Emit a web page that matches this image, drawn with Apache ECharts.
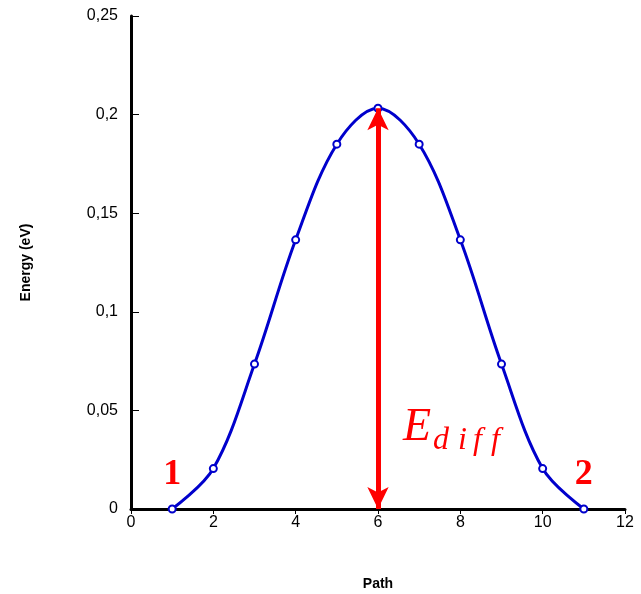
<!DOCTYPE html>
<html>
<head>
<meta charset="utf-8">
<script src="https://cdn.jsdelivr.net/npm/echarts@6/dist/echarts.min.js"></script>
<style>
  html, body { margin: 0; padding: 0; background: #fff; }
  #chart { width: 641px; height: 594px; }
</style>
</head>
<body>
<div id="chart"></div>
<script>
// Reaction path positions and energies (eV)
const pathSteps = [1, 2, 3, 4, 5, 6, 7, 8, 9, 10, 11];
const energies = [0, 0.0205, 0.0735, 0.1365, 0.185, 0.2032, 0.185, 0.1365, 0.0735, 0.0205, 0];
// Barrier (E_diff) between start and peak
const barrierX = 6;
const barrierTop = 0.2032;

const chart = echarts.init(document.getElementById('chart'));
const comma = v => String(v).replace('.', ',');
const sans = 'Liberation Sans, Arial, sans-serif';

chart.setOption({
  animation: false,
  grid: { left: 131, right: 16, top: 16, bottom: 85, containLabel: false, outerBoundsMode: 'none' },
  xAxis: {
    type: 'value', min: 0, max: 12, interval: 2,
    name: 'Path', nameLocation: 'middle', nameGap: 68,
    nameTextStyle: { fontFamily: sans, fontWeight: 'bold', fontSize: 14, color: '#000' },
    axisLine: { lineStyle: { color: '#000', width: 3 } },
    axisTick: { inside: false, length: 5, lineStyle: { color: '#000', width: 1 } },
    axisLabel: { fontFamily: sans, fontSize: 16, color: '#000', margin: 6 },
    splitLine: { show: false }
  },
  yAxis: {
    type: 'value', min: 0, max: 0.25, interval: 0.05,
    name: 'Energy (eV)', nameLocation: 'middle', nameGap: 98, nameRotate: 90,
    nameTextStyle: { fontFamily: sans, fontWeight: 'bold', fontSize: 14, color: '#000' },
    axisLine: { show: true, lineStyle: { color: '#000', width: 3 } },
    axisTick: { show: true, inside: true, length: 8, lineStyle: { color: '#000', width: 1 } },
    axisLabel: { fontFamily: sans, fontSize: 16, color: '#000', margin: 13, formatter: comma },
    splitLine: { show: false }
  },
  series: [
    {
      type: 'line',
      data: pathSteps.map((x, i) => [x, energies[i]]),
      smooth: 0.35,
      lineStyle: { color: '#0000cc', width: 3 },
      symbol: 'emptyCircle', symbolSize: 7,
      itemStyle: { color: '#0000cc', borderWidth: 1 },
      z: 3
    },
    {
      type: 'line',
      data: [],
      markLine: {
        silent: true,
        symbol: ['arrow', 'arrow'],
        symbolSize: [16, 22],
        label: { show: false },
        lineStyle: { color: '#ff0000', width: 5, type: 'solid' },
        data: [[{ coord: [barrierX, 0] }, { coord: [barrierX, barrierTop] }]]
      },
      z: 2
    }
  ]
});

// State labels and barrier annotation anchored in data coordinates
const at = (x, y) => chart.convertToPixel({ gridIndex: 0 }, [x, y]);
const p1 = at(1, 0.0175);
const p2 = at(11, 0.0175);
const pE = at(6.607, 0.034);
const red = '#ff0000';
const stateFont = 'bold 36px "Liberation Serif", "DejaVu Serif", serif';
const eFont = 'italic 46px "Liberation Serif", "DejaVu Serif", serif';
const subFont = 'italic 32px "Liberation Serif", "DejaVu Serif", serif';
const sub = [['d', 30], ['i', 55], ['f', 70], ['f', 88]];

chart.setOption({
  graphic: [
    { type: 'text', x: p1[0], y: p1[1], style: { text: '1', fill: red, font: stateFont, align: 'center', verticalAlign: 'middle' } },
    { type: 'text', x: p2[0], y: p2[1], style: { text: '2', fill: red, font: stateFont, align: 'center', verticalAlign: 'middle' } },
    { type: 'text', x: pE[0], y: pE[1] - 14, style: { text: 'E', fill: red, font: eFont, align: 'left', verticalAlign: 'middle' } }
  ].concat(sub.map(([ch, dx]) => ({
    type: 'text', x: pE[0] + dx, y: pE[1] - 1,
    style: { text: ch, fill: red, font: subFont, align: 'left', verticalAlign: 'middle' }
  })))
});
</script>
</body>
</html>
